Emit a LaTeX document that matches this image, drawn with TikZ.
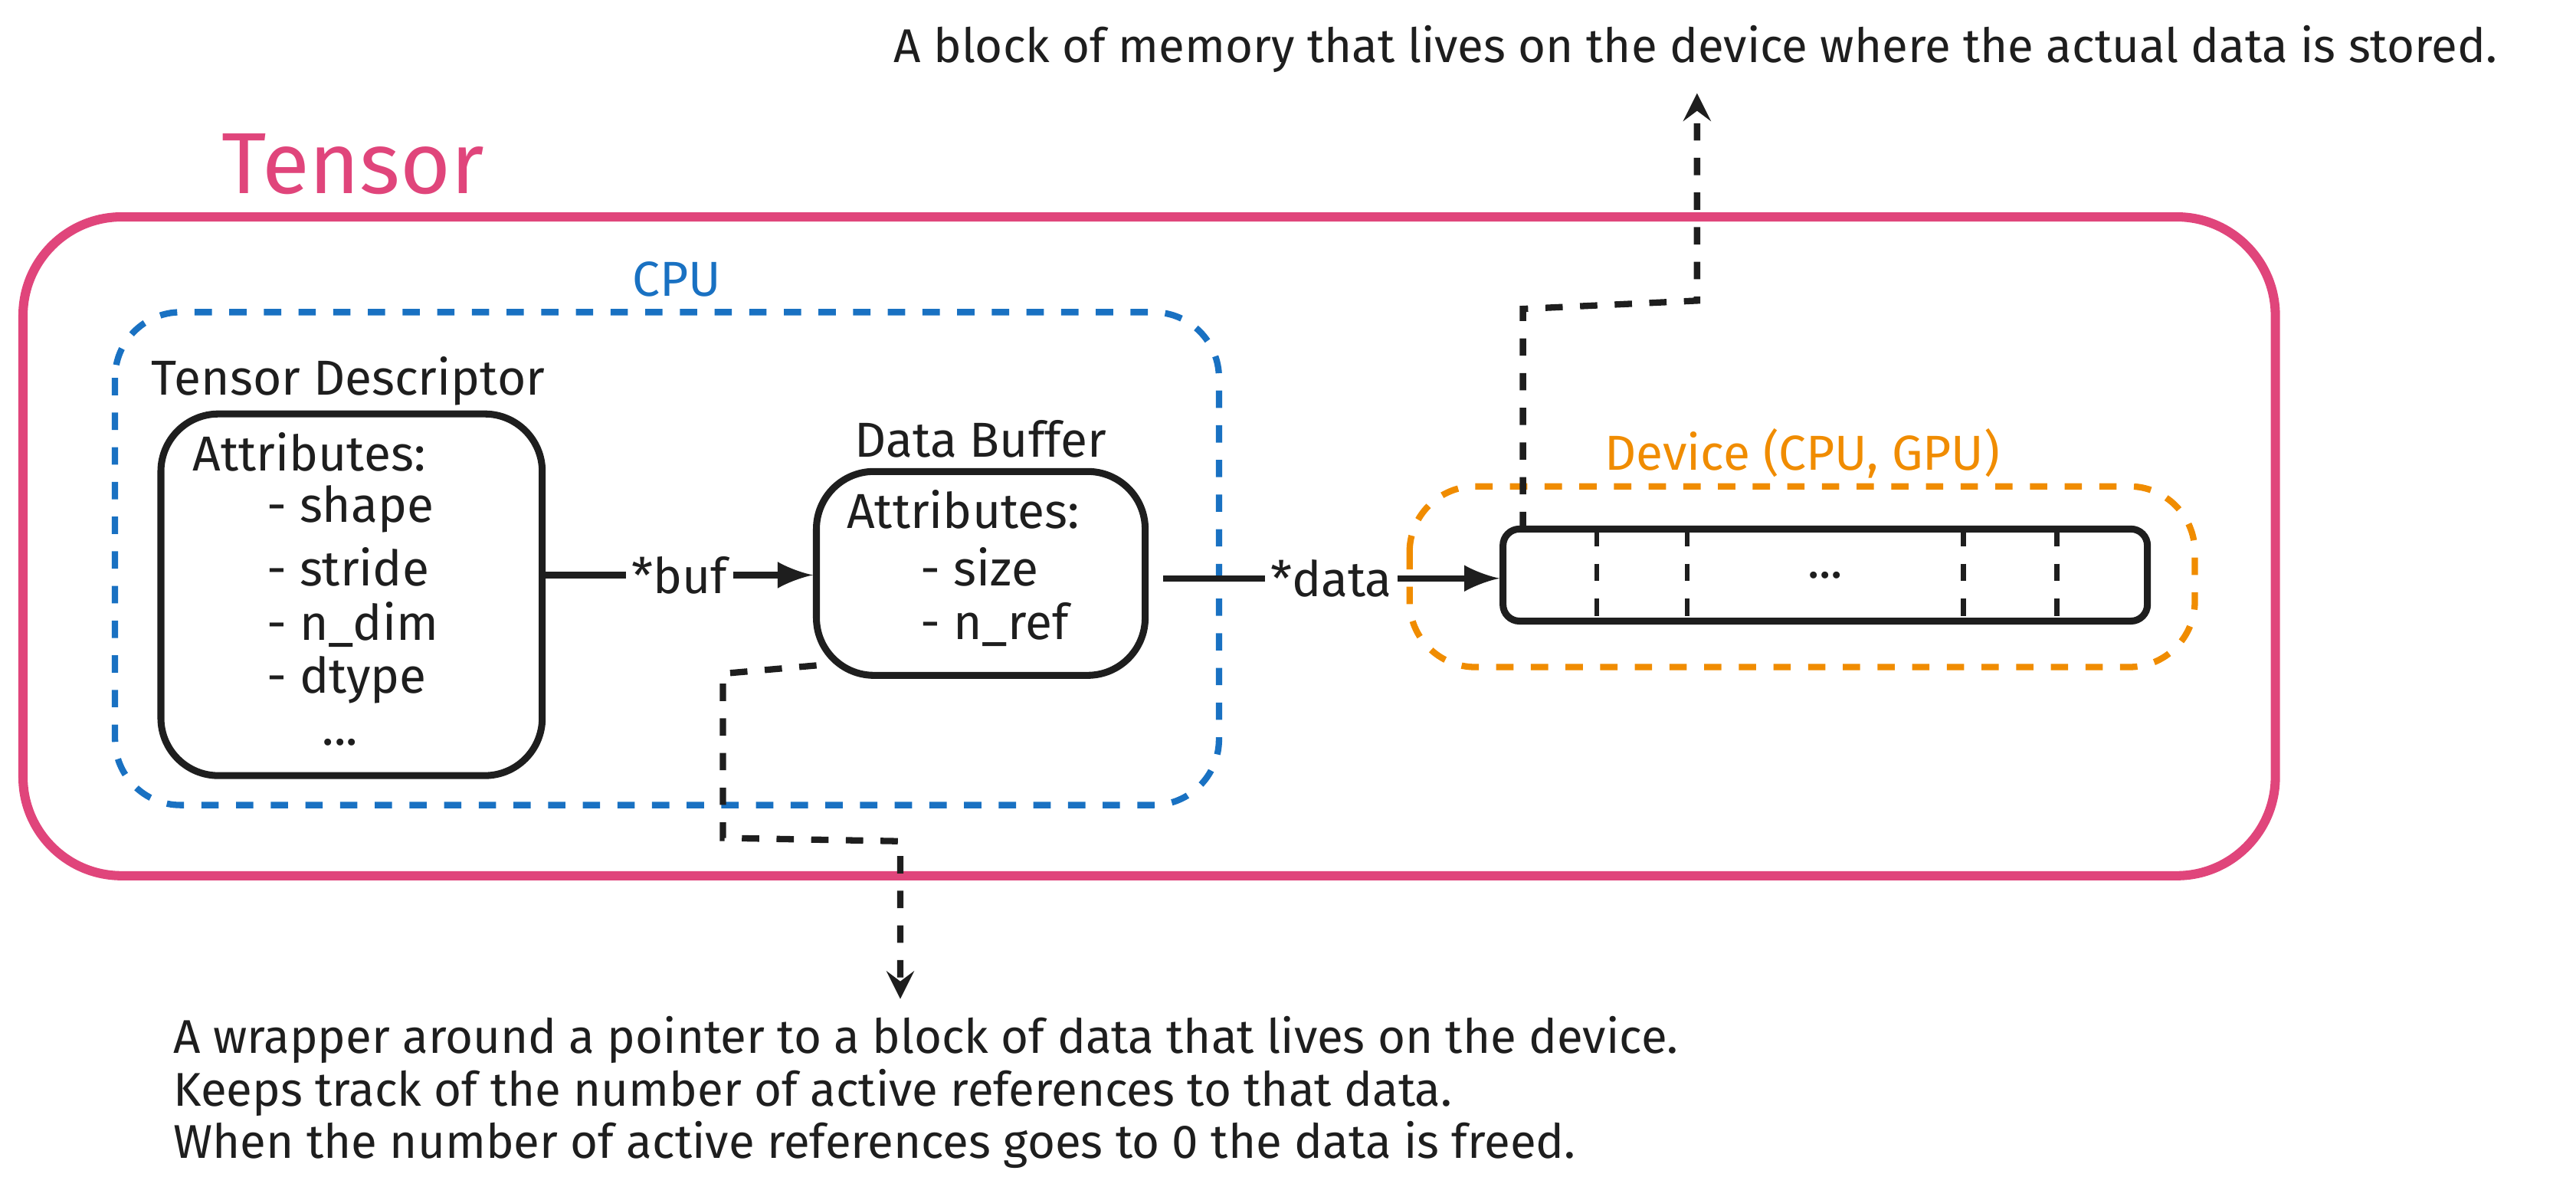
\documentclass[tikz,border=0pt]{standalone}
\usepackage{fontspec}
\setmainfont{Fira Sans}
\usetikzlibrary{positioning}
\definecolor{tpink}{HTML}{E0457B}
\definecolor{tblue}{HTML}{1971C2}
\definecolor{torange}{HTML}{F08C00}
\definecolor{tink}{HTML}{1E1E1E}
\begin{document}
\begin{tikzpicture}
    [
    x=0.01cm,y=-0.01cm,
    every node/.style={font=\fontsize{8.5}{10}\selectfont,text=tink},
    frame/.style={draw,rounded corners=0.6cm,line width=1.6pt},
    group/.style={draw,dashed,rounded corners=0.4cm,line width=1.1pt},
    block/.style={draw=tink,rounded corners=0.35cm,line width=1.2pt},
    link/.style={draw=tink,line width=1.1pt,-latex},
    note/.style={draw=tink,dashed,line width=1.1pt,-stealth}
    ]
    \useasboundingbox (0,0) rectangle (1568,730);
    \node (title) at (215,100) [font=\fontsize{15}{18}\selectfont,text=tpink] {Tensor};
    \draw [frame,draw=tpink] (14,132) rectangle (1385,533);
    \draw [group,draw=tblue] (70,190) rectangle (742,490);
    \node (cpu) at (412,170) [text=tblue] {CPU};
    \draw [group,draw=torange] (858,296) rectangle (1336,406);
    \node (dev) at (1097,276) [text=torange] {Device (CPU, GPU)};
    % tensor descriptor
    \node (tdlabel) at (212,232) {Tensor Descriptor};
    \node (td) at (214,362) [block,minimum width=2.32cm,minimum height=2.2cm] {};
    \node (tda) at (105,275) [anchor=west] {Attributes:};
    \node at (150,310) [anchor=west] {- shape};
    \node at (150,345) [anchor=west] {- stride};
    \node at (150,380) [anchor=west] {- n\_dim};
    \node at (150,414) [anchor=west] {- dtype};
    \node at (207,452) {...};
    % data buffer
    \node (dblabel) at (597,267) {Data Buffer};
    \node (db) at (597,349) [block,minimum width=2cm,minimum height=1.24cm] {};
    \node (dba) at (503,310) [anchor=west] {Attributes:};
    \node at (548,345) [anchor=west] {- size};
    \node at (548,380) [anchor=west] {- n\_ref};
    % device memory
    \node (mem) at (1111,350) [block,rounded corners=0.1cm,minimum width=3.92cm,minimum height=0.56cm] {...};
    \foreach \x in {972,1027,1195,1252}
      \draw [dashed,line width=0.9pt,tink] (\x,322) -- (\x,378);
    % pointers
    \draw [link] (td.east |- 0,350) -- node [fill=white,inner sep=1pt] {*buf} (db.west |- 0,350);
    \coordinate (dout) at (708,352);
    \draw [link] (dout) -- node [fill=white,inner sep=1pt] {*data} (mem.west |- 0,352);
    % notes
    \node (memnote) at (1032,30) [font=\fontsize{8.2}{10}\selectfont] {A block of memory that lives on the device where the actual data is stored.};
    \coordinate (m0) at (927,322);
    \draw [note] (m0) -- (927,188) -- (1033,183) -- (memnote.south -| 1033,0);
    \node (bufnote) at (105,665) [anchor=west,align=left,inner sep=0pt,font=\fontsize{8.2}{9.1}\selectfont] {A wrapper around a pointer to a block of data that lives on the device.\\Keeps track of the number of active references to that data.\\When the number of active references goes to 0 the data is freed.};
    \coordinate (b0) at (497,405);
    \draw [note] (b0) -- (440,410) -- (440,510) -- (548,512) -- (548,608);
\end{tikzpicture}
\end{document}
